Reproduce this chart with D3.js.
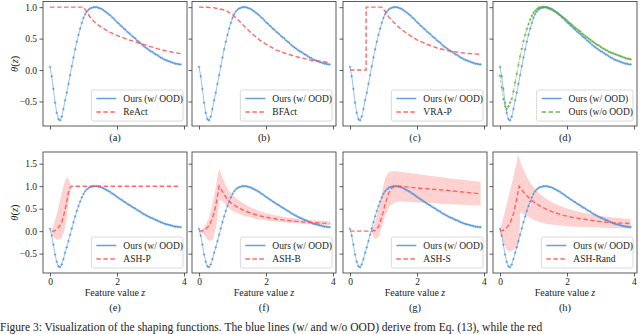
<!DOCTYPE html>
<html>
<head>
<meta charset="utf-8">
<script src="https://cdn.jsdelivr.net/npm/d3@7"></script>
<style>
  body { margin: 0; background: #fff; }
  text { font-family: "Liberation Serif", "DejaVu Serif", serif; fill: #222; }
</style>
</head>
<body>
<div id="fig"></div>
<script>
// ---- data ----
const zStep = 0.05; // sample spacing of the learned shaping function

const oursWithOOD = [
  0.05, -0.10, -0.30, -0.52, -0.68, -0.78, -0.80, -0.74, -0.62, -0.48,
  -0.36, -0.22, -0.08, 0.06, 0.20, 0.33, 0.45, 0.56, 0.66, 0.75,
  0.83, 0.89, 0.93, 0.96, 0.98, 0.99, 1.00, 1.00, 1.00, 0.99,
  0.98, 0.97, 0.95, 0.93, 0.91, 0.89, 0.87, 0.84, 0.82, 0.79,
  0.76, 0.74, 0.71, 0.69, 0.66, 0.64, 0.61, 0.59, 0.57, 0.54,
  0.52, 0.50, 0.47, 0.45, 0.43, 0.40, 0.38, 0.36, 0.34, 0.32,
  0.30, 0.29, 0.27, 0.25, 0.24, 0.22, 0.20, 0.19, 0.17, 0.16,
  0.15, 0.14, 0.13, 0.12, 0.11, 0.10, 0.10, 0.09, 0.09
];

const oursWithoutOOD = [
  -0.09, -0.28, -0.46, -0.58, -0.62, -0.58, -0.52, -0.46, -0.34, -0.20,
  -0.06, 0.08, 0.22, 0.34, 0.46, 0.56, 0.65, 0.73, 0.80, 0.86,
  0.91, 0.94, 0.97, 0.99, 1.00, 1.00, 1.00, 1.00, 0.99, 0.98,
  0.97, 0.96, 0.94, 0.93, 0.91, 0.89, 0.87, 0.85, 0.83, 0.81,
  0.79, 0.76, 0.74, 0.72, 0.69, 0.67, 0.65, 0.63, 0.61, 0.58,
  0.56, 0.54, 0.52, 0.50, 0.48, 0.46, 0.44, 0.42, 0.40, 0.39,
  0.37, 0.35, 0.34, 0.32, 0.31, 0.29, 0.28, 0.27, 0.26, 0.25,
  0.24, 0.23, 0.22, 0.21, 0.20, 0.19, 0.18, 0.18, 0.17
];

const reactZ = [0, 1.0, 1.1, 1.2, 1.3, 1.4, 1.6, 1.8, 2.0, 2.3, 2.6, 2.9, 3.2, 3.5, 3.9];
const reactV = [1, 1, 0.92, 0.84, 0.78, 0.73, 0.66, 0.60, 0.55, 0.49, 0.44, 0.39, 0.34, 0.30, 0.26];

const bfactZ = [0, 0.4, 0.8, 1.0, 1.2, 1.4, 1.6, 1.8, 2.0, 2.3, 2.6, 3.0, 3.4, 3.9];
const bfactV = [1.0, 0.995, 0.95, 0.88, 0.78, 0.67, 0.57, 0.48, 0.41, 0.32, 0.26, 0.20, 0.15, 0.12];

const vrapZ = [0, 0.48, 0.48, 0.95, 1.05, 1.15, 1.3, 1.5, 1.7, 2.0, 2.3, 2.6, 3.0, 3.4, 3.9];
const vrapV = [0, 0, 1, 1, 0.93, 0.85, 0.76, 0.66, 0.58, 0.48, 0.41, 0.35, 0.30, 0.27, 0.25];

const ashPZ = [0.05, 0.1, 0.15, 0.2, 0.25, 0.3, 0.35, 0.4, 0.45, 0.5, 0.55, 0.6, 0.65, 0.7, 3.9];
const ashPV = [0, 0, 0.01, 0.04, 0.08, 0.13, 0.2, 0.33, 0.48, 0.66, 0.86, 0.97, 1.0, 1.0, 1.0];
const ashPBandZ = [0.05, 0.1, 0.15, 0.2, 0.25, 0.3, 0.35, 0.4, 0.45, 0.5, 0.55, 0.6, 0.65, 0.7];
const ashPBandLo = [-0.05, -0.12, -0.17, -0.19, -0.19, -0.18, -0.14, -0.06, 0.08, 0.3, 0.6, 0.88, 1.0, 1.0];
const ashPBandHi = [0.05, 0.12, 0.24, 0.38, 0.52, 0.68, 0.84, 1.0, 1.12, 1.2, 1.16, 1.06, 1.0, 1.0];

const ashBZ = [0, 0.1, 0.2, 0.3, 0.4, 0.5, 0.55, 0.6, 0.7, 0.8, 0.9, 1.0, 1.2, 1.4, 1.6, 1.8, 2.0, 2.3, 2.6, 3.0, 3.4, 3.9];
const ashBV = [0, 0.01, 0.05, 0.12, 0.28, 0.56, 0.78, 1.0, 0.88, 0.76, 0.66, 0.6, 0.51, 0.44, 0.39, 0.34, 0.31, 0.27, 0.24, 0.21, 0.19, 0.17];
const ashBBandLo = [0, -0.04, -0.14, -0.22, -0.2, 0.05, 0.3, 0.7, 0.66, 0.58, 0.5, 0.45, 0.38, 0.33, 0.29, 0.26, 0.24, 0.21, 0.19, 0.17, 0.15, 0.13];
const ashBBandHi = [0, 0.04, 0.14, 0.3, 0.6, 0.98, 1.2, 1.38, 1.2, 1.02, 0.88, 0.8, 0.68, 0.58, 0.51, 0.45, 0.4, 0.35, 0.31, 0.27, 0.24, 0.22];

const ashSZ = [0, 0.65, 0.75, 0.85, 0.95, 1.05, 1.15, 1.25, 1.35, 1.5, 2.0, 2.5, 3.0, 3.5, 3.9];
const ashSV = [0, 0, 0.02, 0.1, 0.32, 0.6, 0.84, 0.96, 1.0, 1.0, 0.96, 0.93, 0.9, 0.86, 0.83];
const ashSBandZ = [0.6, 0.65, 0.75, 0.85, 0.95, 1.05, 1.15, 1.25, 1.35, 1.5, 2.0, 2.5, 3.0, 3.5, 3.9];
const ashSBandLo = [0, -0.04, -0.18, -0.12, 0.1, 0.34, 0.52, 0.6, 0.64, 0.66, 0.64, 0.62, 0.6, 0.58, 0.57];
const ashSBandHi = [0, 0.02, 0.2, 0.5, 0.85, 1.18, 1.31, 1.33, 1.33, 1.32, 1.27, 1.22, 1.17, 1.13, 1.1];

const ashRZ = [0, 0.1, 0.2, 0.3, 0.4, 0.5, 0.57, 0.65, 0.75, 0.85, 1.0, 1.2, 1.4, 1.6, 1.9, 2.2, 2.5, 2.9, 3.3, 3.9];
const ashRV = [0, 0.02, 0.08, 0.18, 0.38, 0.72, 1.0, 0.92, 0.83, 0.75, 0.65, 0.56, 0.48, 0.42, 0.35, 0.3, 0.27, 0.22, 0.19, 0.17];
const ashRBandZ = [0, 0.1, 0.2, 0.3, 0.4, 0.5, 0.54, 0.58, 0.6, 0.65, 0.75, 0.85, 1.0, 1.2, 1.4, 1.6, 1.9, 2.2, 2.5, 2.9, 3.3, 3.9];
const ashRBandLo = [-0.04, -0.25, -0.42, -0.46, -0.42, -0.36, -0.33, -0.2, 0.42, 0.4, 0.36, 0.32, 0.25, 0.2, 0.16, 0.14, 0.12, 0.1, 0.09, 0.08, 0.07, 0.06];
const ashRBandHi = [0.04, 0.3, 0.6, 0.9, 1.2, 1.55, 1.72, 1.62, 1.56, 1.45, 1.28, 1.14, 0.98, 0.82, 0.71, 0.62, 0.53, 0.46, 0.41, 0.35, 0.31, 0.27];

const xTicks = [0, 2, 4];
const topYTicks = [-0.5, 0, 0.5, 1.0];
const bottomYTicks = [-0.5, 0, 0.5, 1.0, 1.5];

const caption = 'Figure 3: Visualization of the shaping functions. The blue lines (w/ and w/o OOD) derive from Eq. (13), while the red';

// ---- layout ----
const W = 640, H = 334;
const panelLeft = [43, 192, 343, 493];
const panelW = 144;
const rows = [
  { top: 1.5, bottom: 126, domain: [-0.89, 1.09], ticks: topYTicks, labelY: 141 },
  { top: 152, bottom: 273, domain: [-0.93, 1.76], ticks: bottomYTicks, labelY: 311 }
];

const BLUE = '#4a90d9', RED = '#ff4d4d', GREEN = '#5aa832';

const panels = [
  { id: '(a)', row: 0, col: 0, other: { name: 'ReAct', z: reactZ, v: reactV } },
  { id: '(b)', row: 0, col: 1, other: { name: 'BFAct', z: bfactZ, v: bfactV } },
  { id: '(c)', row: 0, col: 2, other: { name: 'VRA-P', z: vrapZ, v: vrapV } },
  { id: '(d)', row: 0, col: 3, green: true },
  { id: '(e)', row: 1, col: 0, other: { name: 'ASH-P', z: ashPZ, v: ashPV }, band: { z: ashPBandZ, lo: ashPBandLo, hi: ashPBandHi } },
  { id: '(f)', row: 1, col: 1, other: { name: 'ASH-B', z: ashBZ, v: ashBV }, band: { z: ashBZ, lo: ashBBandLo, hi: ashBBandHi } },
  { id: '(g)', row: 1, col: 2, other: { name: 'ASH-S', z: ashSZ, v: ashSV }, band: { z: ashSBandZ, lo: ashSBandLo, hi: ashSBandHi } },
  { id: '(h)', row: 1, col: 3, other: { name: 'ASH-Rand', z: ashRZ, v: ashRV }, band: { z: ashRBandZ, lo: ashRBandLo, hi: ashRBandHi } }
];

const svg = d3.select('#fig').append('svg')
    .attr('width', W)
    .attr('height', H);

const x = d3.scaleLinear().domain([-0.21, 4.09]).range([0, panelW]);
const fmt = d => d3.format('.1f')(d).replace('-', '\u2212');

// draw a learned curve with small '+' markers
function drawOurs(g, y, vals, color, dashed) {
  const pts = vals.map((v, i) => [i * zStep, v]);
  g.append('path')
      .datum(pts)
      .attr('d', d3.line().x(d => x(d[0])).y(d => y(d[1])))
      .attr('fill', 'none')
      .attr('stroke', color)
      .attr('stroke-opacity', 0.55)
      .attr('stroke-width', 1)
      .attr('stroke-dasharray', dashed ? '3,1.5' : null);
  g.append('g').selectAll('path')
      .data(pts)
      .enter().append('path')
      .attr('d', d => {
        const cx = x(d[0]), cy = y(d[1]);
        return `M${cx - 1.3},${cy}H${cx + 1.3}M${cx},${cy - 1.3}V${cy + 1.3}`;
      })
      .attr('stroke', color)
      .attr('stroke-opacity', 0.85)
      .attr('stroke-width', 0.8);
}

panels.forEach(p => {
  const r = rows[p.row];
  const h = r.bottom - r.top;
  const y = d3.scaleLinear().domain(r.domain).range([h, 0]);
  const g = svg.append('g').attr('transform', `translate(${panelLeft[p.col]},${r.top})`);

  // uncertainty band
  if (p.band) {
    const bd = p.band.z.map((z, i) => [z, p.band.lo[i], p.band.hi[i]]);
    g.append('path')
        .datum(bd)
        .attr('d', d3.area().x(d => x(d[0])).y0(d => y(d[1])).y1(d => y(d[2])))
        .attr('fill', '#ff3333')
        .attr('fill-opacity', 0.22);
  }

  drawOurs(g, y, oursWithOOD, BLUE, false);
  if (p.green) drawOurs(g, y, oursWithoutOOD, GREEN, true);

  if (p.other) {
    g.append('path')
        .datum(p.other.z.map((z, i) => [z, p.other.v[i]]))
        .attr('d', d3.line().x(d => x(d[0])).y(d => y(d[1])))
        .attr('fill', 'none')
        .attr('stroke', RED)
        .attr('stroke-opacity', 0.85)
        .attr('stroke-width', 1.4)
        .attr('stroke-dasharray', '4.5,2.5');
  }

  // axes
  const xa = g.append('g').attr('transform', `translate(0,${h})`)
      .call(d3.axisBottom(x).tickValues(xTicks).tickSize(3.5).tickPadding(2)
        .tickFormat(p.row === 1 ? d3.format('d') : () => ''));
  const ya = g.append('g')
      .call(d3.axisLeft(y).tickValues(r.ticks).tickSize(3.5).tickPadding(2.5)
        .tickFormat(p.col === 0 ? fmt : () => ''));
  [xa, ya].forEach(a => {
    a.select('.domain').remove();
    a.selectAll('line').attr('stroke', '#333').attr('stroke-width', 0.8);
    a.selectAll('text').attr('font-size', 9.5).attr('fill', '#222')
        .style('font-family', '"Liberation Serif", serif');
  });

  g.append('rect')
      .attr('width', panelW).attr('height', h)
      .attr('fill', 'none').attr('stroke', '#333').attr('stroke-width', 0.8);

  // legend
  const entries = [{ label: 'Ours (w/ OOD)', color: BLUE, dash: null }];
  if (p.green) entries.push({ label: 'Ours (w/o OOD)', color: GREEN, dash: '4.5,2.5' });
  else entries.push({ label: p.other.name, color: RED, dash: '4.5,2.5' });

  const lg = g.append('g');
  const box = lg.append('rect');
  let maxW = 0;
  const items = entries.map((e, i) => {
    const it = lg.append('g');
    it.append('line').attr('x1', 0).attr('x2', 20)
        .attr('stroke', e.color).attr('stroke-width', 1.5)
        .attr('stroke-opacity', 0.85)
        .attr('stroke-dasharray', e.dash);
    const t = it.append('text').attr('x', 27).attr('dy', '0.33em')
        .attr('font-size', 9.5).text(e.label);
    maxW = Math.max(maxW, t.node().getComputedTextLength());
    return it;
  });
  const bw = 27 + maxW + 5, bh = 31;
  const bx = panelW - 4 - bw, by = h - 5 - bh;
  box.attr('x', bx).attr('y', by).attr('width', bw).attr('height', bh)
      .attr('rx', 2).attr('fill', '#fff').attr('fill-opacity', 0.85)
      .attr('stroke', '#d0d0d0').attr('stroke-width', 0.8);
  items.forEach((it, i) => it.attr('transform', `translate(${bx + 5},${by + 8.5 + i * 13.5})`));

  // panel label
  svg.append('text')
      .attr('x', panelLeft[p.col] + panelW / 2)
      .attr('y', r.labelY)
      .attr('text-anchor', 'middle')
      .attr('font-size', 10.5)
      .text(p.id);

  if (p.row === 1) {
    const xl = svg.append('text')
        .attr('x', panelLeft[p.col] + panelW / 2)
        .attr('y', 296)
        .attr('text-anchor', 'middle')
        .attr('font-size', 10);
    xl.append('tspan').text('Feature value ');
    xl.append('tspan').attr('font-style', 'italic').text('z');
  }
});

// y labels
rows.forEach(r => {
  const t = svg.append('text')
      .attr('transform', `translate(18,${(r.top + r.bottom) / 2}) rotate(-90)`)
      .attr('text-anchor', 'middle')
      .attr('font-size', 10.5);
  t.append('tspan').attr('font-style', 'italic').text('\u03b8');
  t.append('tspan').text('(');
  t.append('tspan').attr('font-style', 'italic').text('z');
  t.append('tspan').text(')');
});

// caption line below the figure
svg.append('text')
    .attr('x', 0)
    .attr('y', 330.5)
    .attr('font-size', 11.5)
    .attr('fill', '#333')
    .text(caption);
</script>
</body>
</html>
